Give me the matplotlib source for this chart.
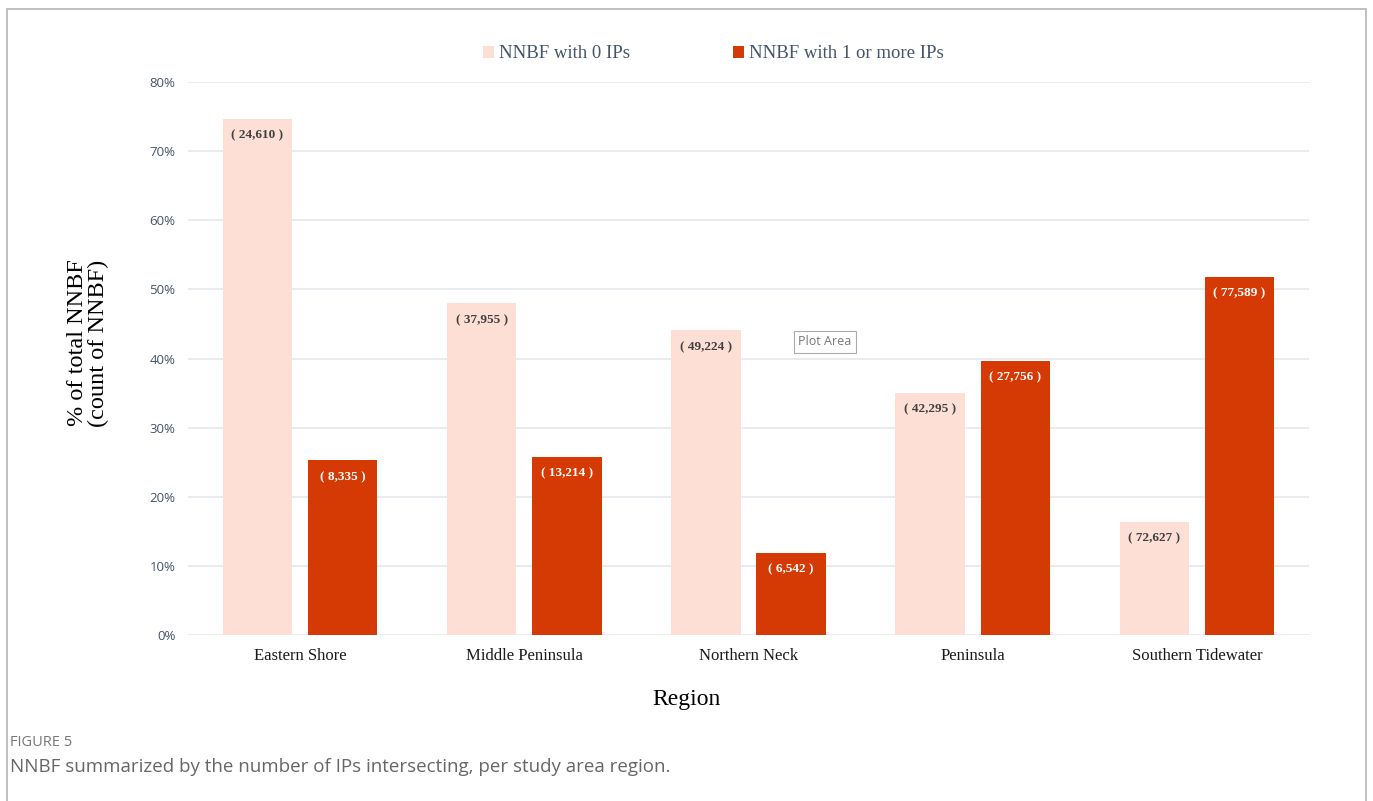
import matplotlib.pyplot as plt
import matplotlib.patches as mpatches
import numpy as np

regions = ["Eastern Shore", "Middle Peninsula", "Northern Neck", "Peninsula", "Southern Tidewater"]
pct_zero = [74.7, 48.0, 44.1, 35.0, 16.4]
pct_one = [25.3, 25.8, 11.9, 39.7, 51.8]
count_zero = [24610, 37955, 49224, 42295, 72627]
count_one = [8335, 13214, 6542, 27756, 77589]

c_zero = "#FDDFD6"
c_one = "#D63A04"
serif = ["Liberation Serif", "DejaVu Serif"]
sans = ["Open Sans", "DejaVu Sans"]
W, H = 1373, 801

fig = plt.figure(figsize=(13.73, 8.01), dpi=100)
ax = fig.add_axes([0.1369, 0.2072, 0.8165, 0.6904])

x = np.arange(len(regions))
w = 0.31
off = 0.19
b0 = ax.bar(x - off, np.array(pct_zero) / 100, w, color=c_zero, zorder=2,
            label="NNBF with 0 IPs")
b1 = ax.bar(x + off, np.array(pct_one) / 100, w, color=c_one, zorder=2,
            label="NNBF with 1 or more IPs")

for bars, counts, tc in [(b0, count_zero, "#404040"), (b1, count_one, "white")]:
    for rect, n in zip(bars, counts):
        ax.annotate(f"( {n:,} )", (rect.get_x() + rect.get_width() / 2, rect.get_height()),
                    xytext=(0, -12), textcoords="offset points", ha="center", va="center",
                    fontsize=9.5, fontweight="bold", color=tc, family=serif, zorder=3)

ax.set_xlim(-0.5, len(regions) - 0.5)
ax.set_ylim(0, 0.8)
ticks = np.arange(0, 0.81, 0.1)
ax.set_yticks(ticks)
ax.set_yticklabels([f"{int(round(v * 100))}%" for v in ticks],
                   fontsize=9.5, color="#44546A", family=sans)
ax.set_xticks(x)
ax.set_xticklabels(regions, fontsize=12, family=serif, color="#1a1a1a")
ax.tick_params(length=0)
ax.tick_params(axis="y", pad=9)
ax.tick_params(axis="x", pad=9)
ax.grid(axis="y", color="#E4E8EE", lw=1.2, zorder=0)
for s in ax.spines.values():
    s.set_visible(False)

fig.text(686 / W, 1 - 700 / H, "Region", fontsize=17, family=serif,
         ha="center", va="center")
fig.text(88 / W, 1 - 343 / H, "% of total NNBF\n(count of NNBF)", fontsize=17.5,
         family=serif, rotation=90, ha="center", va="center", linespacing=1.05,
         multialignment="center")

fig.legend(handles=[b0, b1], loc="center", bbox_to_anchor=(713 / W, 1 - 54 / H), ncol=2,
           frameon=False, prop={"family": serif, "size": 13.5}, labelcolor="#44546A",
           handlelength=0.6, handleheight=0.6, handletextpad=0.25, columnspacing=5.5)

# tooltip artifact seen in the screenshot
fig.text(825 / W, 1 - 342 / H, "Plot Area", fontsize=9, color="#777777",
         ha="center", va="center", family=sans,
         bbox=dict(boxstyle="square,pad=0.35", fc="white", ec="#aaaaaa", lw=0.8))

# outer frame
fig.patches.append(mpatches.Rectangle((7 / W, -0.02), (1366 - 7) / W, 1.02 - 9 / H,
                                      transform=fig.transFigure, fill=False,
                                      ec="#BBBBBB", lw=1.3))

fig.text(10 / W, 1 - 743 / H, "FIGURE 5", fontsize=10.5, color="#777777",
         family=sans, va="center")
fig.text(10 / W, 1 - 767 / H,
         "NNBF summarized by the number of IPs intersecting, per study area region.",
         fontsize=13.5, color="#666666", family=sans, va="center")

fig.savefig("out.png", dpi=100)
